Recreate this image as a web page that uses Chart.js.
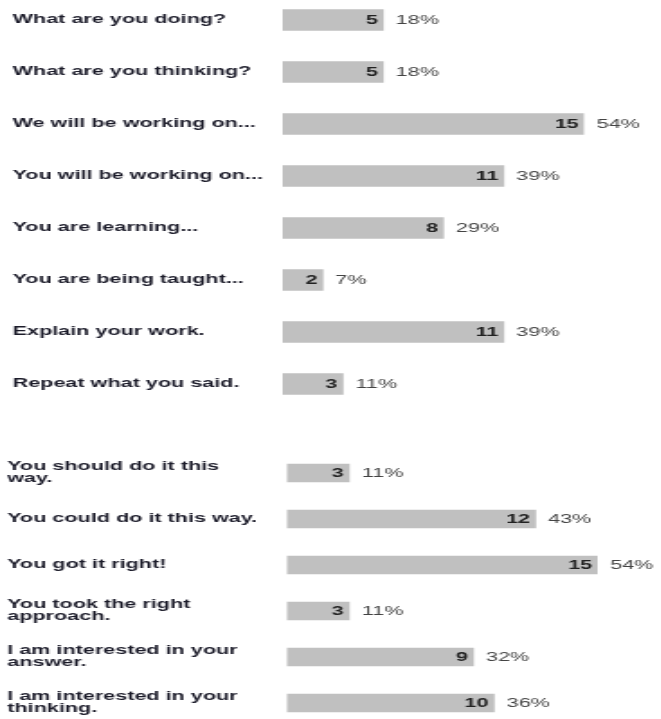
<!DOCTYPE html>
<html lang="en">
<head>
    <meta charset="UTF-8">
    <title>Teacher Talk Survey</title>
    <script src="https://cdn.jsdelivr.net/npm/chart.js"></script>
    <style>
        body {
            margin: 0;
            background: #fff;
            overflow: hidden;
        }
        .page {
            position: relative;
            width: 661px;
            height: 719px;
            overflow: hidden;
        }
        /* charts are drawn narrow and stretched sideways */
        .wrap {
            position: absolute;
            left: 0;
            width: 367px;
            transform: scaleX(1.8);
            transform-origin: 0 0;
        }
        #wrapTop { top: -6px; height: 416px; }
        #wrapBottom { top: 450px; height: 276px; }
    </style>
</head>
<body>
<div class="page">
    <div class="wrap" id="wrapTop"><canvas id="topChart" width="367" height="416"></canvas></div>
    <div class="wrap" id="wrapBottom"><canvas id="bottomChart" width="367" height="276"></canvas></div>
</div>

<script>
    // Questions / prompts, first block
    const topLabels = [
        'What are you doing?',
        'What are you thinking?',
        'We will be working on...',
        'You will be working on...',
        'You are learning...',
        'You are being taught...',
        'Explain your work.',
        'Repeat what you said.'
    ];
    const topCounts = [5, 5, 15, 11, 8, 2, 11, 3];
    const topPercents = ['18%', '18%', '54%', '39%', '29%', '7%', '39%', '11%'];

    // Feedback statements, second block
    const bottomLabels = [
        ['You should do it this', 'way.'],
        'You could do it this way.',
        'You got it right!',
        ['You took the right', 'approach.'],
        ['I am interested in your', 'answer.'],
        ['I am interested in your', 'thinking.']
    ];
    const bottomCounts = [3, 12, 15, 3, 9, 10];
    const bottomPercents = ['11%', '43%', '54%', '11%', '32%', '36%'];

    Chart.defaults.font.family = 'Arial, "Liberation Sans", sans-serif';
    Chart.defaults.animation = false;

    // count inside the bar end, percentage just past it
    const valueLabels = {
        id: 'valueLabels',
        afterDatasetsDraw(chart, args, opts) {
            const ctx = chart.ctx;
            const meta = chart.getDatasetMeta(0);
            ctx.save();
            ctx.textBaseline = 'middle';
            meta.data.forEach((bar, i) => {
                ctx.font = 'bold 12px Arial, "Liberation Sans", sans-serif';
                ctx.fillStyle = '#222';
                ctx.textAlign = 'right';
                ctx.fillText(chart.data.datasets[0].data[i], bar.x - 3, bar.y + 1);
                ctx.font = '12px Arial, "Liberation Sans", sans-serif';
                ctx.fillStyle = '#444';
                ctx.textAlign = 'left';
                ctx.fillText(opts.percents[i], bar.x + 7, bar.y + 1);
            });
            ctx.restore();
        }
    };

    function makeChart(id, labels, counts, percents, axisLeft, axisWidth, padRight, thickness) {
        return new Chart(document.getElementById(id), {
            type: 'bar',
            data: {
                labels: labels,
                datasets: [{
                    data: counts,
                    backgroundColor: '#c0c0c0',
                    borderWidth: 0,
                    barThickness: thickness
                }]
            },
            options: {
                indexAxis: 'y',
                responsive: false,
                devicePixelRatio: 1,
                layout: { padding: { left: axisLeft, right: padRight, top: 0, bottom: 0 } },
                plugins: {
                    legend: { display: false },
                    tooltip: { enabled: false },
                    valueLabels: { percents: percents }
                },
                scales: {
                    x: {
                        display: false,
                        min: 0,
                        max: 15
                    },
                    y: {
                        grid: { display: false, drawTicks: false },
                        border: { display: false },
                        afterFit(scale) {
                            scale.width = axisWidth;
                            // rows fill the full canvas height
                            scale.paddingTop = 0;
                            scale.paddingBottom = 0;
                        },
                        ticks: {
                            crossAlign: 'far',
                            padding: 0,
                            color: '#1c1c2a',
                            font: { size: 12, weight: 'bold', lineHeight: 1.0 }
                        }
                    }
                }
            },
            plugins: [valueLabels]
        });
    }

    makeChart('topChart', topLabels, topCounts, topPercents, 7, 150, 42.5, 21);
    makeChart('bottomChart', bottomLabels, bottomCounts, bottomPercents, 4, 155.4, 35, 18);
</script>
</body>
</html>
